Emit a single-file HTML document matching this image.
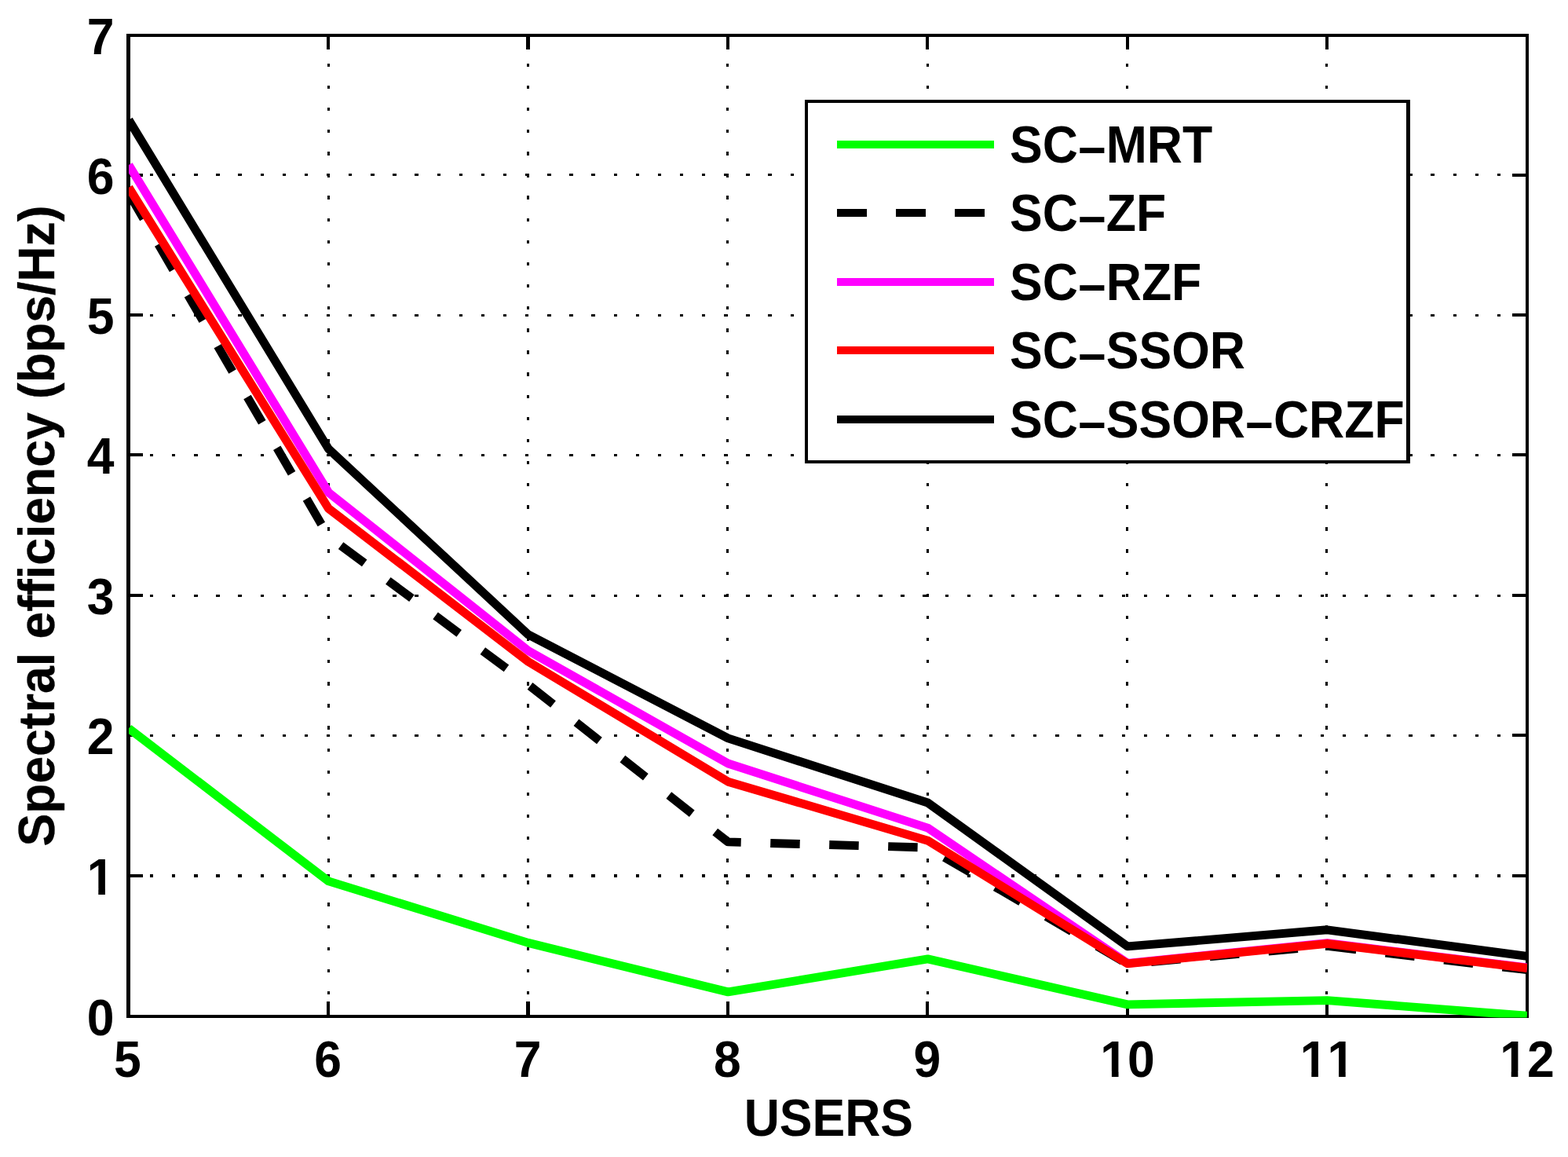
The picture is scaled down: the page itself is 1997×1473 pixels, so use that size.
<!DOCTYPE html>
<html lang="en"><head><meta charset="utf-8"><title>Spectral efficiency (bps/Hz)</title>
<style>
html,body{margin:0;padding:0;background:#fff;}
body{width:1997px;height:1473px;overflow:hidden;}
svg{display:block;}
text{font-family:"Liberation Sans",sans-serif;font-weight:bold;font-size:62.5px;fill:#000;font-kerning:none;font-variant-ligatures:none;}
.ax{shape-rendering:crispEdges;fill:#000;}
.grid{shape-rendering:crispEdges;stroke:#000;fill:none;}
.ser{fill:none;stroke-linejoin:round;}
</style></head><body>
<svg width="1997" height="1473" viewBox="0 0 1997 1473">
<rect x="0" y="0" width="1997" height="1473" fill="#ffffff"/>
<defs><clipPath id="plotclip"><rect x="164" y="45" width="1781.3" height="1250.5"/></clipPath></defs>
<g class="grid">
<line x1="418.50" y1="1294.40" x2="418.50" y2="45.00" stroke-width="3" stroke-dasharray="4.4 23.725"/>
<line x1="672.50" y1="1294.40" x2="672.50" y2="45.00" stroke-width="3" stroke-dasharray="4.4 23.725"/>
<line x1="926.50" y1="1294.40" x2="926.50" y2="45.00" stroke-width="3" stroke-dasharray="4.4 23.725"/>
<line x1="1181.50" y1="1294.40" x2="1181.50" y2="45.00" stroke-width="3" stroke-dasharray="4.4 23.725"/>
<line x1="1435.50" y1="1294.40" x2="1435.50" y2="45.00" stroke-width="3" stroke-dasharray="4.4 23.725"/>
<line x1="1689.50" y1="1294.40" x2="1689.50" y2="45.00" stroke-width="3" stroke-dasharray="4.4 23.725"/>
<line x1="162.72" y1="1115.00" x2="1945.00" y2="1115.00" stroke-width="4" stroke-dasharray="4.400 23.730"/>
<line x1="162.72" y1="936.50" x2="1945.00" y2="936.50" stroke-width="3" stroke-dasharray="4.400 23.730"/>
<line x1="162.72" y1="758.50" x2="1945.00" y2="758.50" stroke-width="3" stroke-dasharray="4.400 23.730"/>
<line x1="162.72" y1="579.50" x2="1945.00" y2="579.50" stroke-width="3" stroke-dasharray="4.400 23.730"/>
<line x1="162.72" y1="401.50" x2="1945.00" y2="401.50" stroke-width="3" stroke-dasharray="4.400 23.730"/>
<line x1="162.72" y1="222.50" x2="1945.00" y2="222.50" stroke-width="3" stroke-dasharray="4.400 23.730"/>
</g>
<g class="ax">
<rect x="161" y="43" width="5" height="1253"/>
<rect x="1943" y="43" width="4" height="1253"/>
<rect x="161" y="43" width="1786" height="4"/>
<rect x="161" y="1292" width="1786" height="4"/>
<rect x="416" y="45" width="4" height="18"/>
<rect x="416" y="1275" width="4" height="19"/>
<rect x="670" y="45" width="5" height="18"/>
<rect x="670" y="1275" width="5" height="19"/>
<rect x="925" y="45" width="4" height="18"/>
<rect x="925" y="1275" width="4" height="19"/>
<rect x="1179" y="45" width="4" height="18"/>
<rect x="1179" y="1275" width="4" height="19"/>
<rect x="1434" y="45" width="4" height="18"/>
<rect x="1434" y="1275" width="4" height="19"/>
<rect x="1688" y="45" width="4" height="18"/>
<rect x="1688" y="1275" width="4" height="19"/>
<rect x="163.5" y="1113" width="18.5" height="4"/>
<rect x="1926" y="1113" width="19" height="4"/>
<rect x="163.5" y="934" width="18.5" height="4"/>
<rect x="1926" y="934" width="19" height="4"/>
<rect x="163.5" y="756" width="18.5" height="4"/>
<rect x="1926" y="756" width="19" height="4"/>
<rect x="163.5" y="577" width="18.5" height="4"/>
<rect x="1926" y="577" width="19" height="4"/>
<rect x="163.5" y="399" width="18.5" height="4"/>
<rect x="1926" y="399" width="19" height="4"/>
<rect x="163.5" y="221" width="18.5" height="4"/>
<rect x="1926" y="221" width="19" height="4"/>
</g>
<g clip-path="url(#plotclip)">
<polyline class="ser" points="164.0,927.4 418.4,1121.9 672.8,1200.4 927.2,1262.9 1181.6,1220.9 1436.0,1278.9 1690.4,1273.6 1944.8,1293.2" stroke="#00ff00" stroke-width="10.9" stroke-linecap="butt"/>
<polyline class="ser" points="164.0,246.2 418.4,683.0 672.8,871.6 927.2,1071.9 1181.6,1079.1 1436.0,1227.2 1690.4,1204.3 1944.8,1234.7" stroke="#000000" stroke-width="10.9" stroke-dasharray="37.5 37.5" stroke-linecap="butt"/>
<polyline class="ser" points="164.0,210.1 418.4,626.9 672.8,828.4 927.2,972.0 1181.6,1054.1 1436.0,1226.3 1690.4,1200.6 1944.8,1232.0" stroke="#ff00ff" stroke-width="10.9" stroke-linecap="butt"/>
<polyline class="ser" points="164.0,238.7 418.4,647.3 672.8,842.3 927.2,995.2 1181.6,1070.2 1436.0,1226.8 1690.4,1201.3 1944.8,1232.5" stroke="#ff0000" stroke-width="10.9" stroke-linecap="butt"/>
<polyline class="ser" points="164.0,152.7 418.4,571.5 672.8,807.9 927.2,939.9 1181.6,1022.0 1436.0,1204.9 1690.4,1183.8 1944.8,1217.4" stroke="#000000" stroke-width="10.9" stroke-linecap="butt"/>
</g>
<rect x="1025" y="127" width="771" height="463" fill="#ffffff"/>
<g class="ax">
<rect x="1025" y="127" width="4" height="463"/>
<rect x="1791" y="127" width="5" height="463"/>
<rect x="1025" y="127" width="771" height="4"/>
<rect x="1025" y="586" width="771" height="4"/>
</g>
<rect x="1066" y="179" width="200" height="10" fill="#00ff00" shape-rendering="crispEdges"/>
<text transform="translate(1286.00 206.70) scale(1 1.070)">SC<tspan x="84.41" dy="0.60" font-size="54.0" textLength="40.82" lengthAdjust="spacingAndGlyphs">-</tspan><tspan x="122.82" dy="-0.60">MRT</tspan></text>
<rect x="1066" y="266" width="38" height="10" fill="#000000" shape-rendering="crispEdges"/>
<rect x="1141" y="266" width="38" height="10" fill="#000000" shape-rendering="crispEdges"/>
<rect x="1216" y="266" width="38" height="10" fill="#000000" shape-rendering="crispEdges"/>
<text transform="translate(1286.00 294.15) scale(1 1.070)">SC<tspan x="84.41" dy="0.60" font-size="54.0" textLength="40.82" lengthAdjust="spacingAndGlyphs">-</tspan><tspan x="122.82" dy="-0.60">ZF</tspan></text>
<rect x="1066" y="354" width="200" height="10" fill="#ff00ff" shape-rendering="crispEdges"/>
<text transform="translate(1286.00 381.60) scale(1 1.070)">SC<tspan x="84.41" dy="0.60" font-size="54.0" textLength="40.82" lengthAdjust="spacingAndGlyphs">-</tspan><tspan x="122.82" dy="-0.60">RZF</tspan></text>
<rect x="1066" y="441" width="200" height="10" fill="#ff0000" shape-rendering="crispEdges"/>
<text transform="translate(1286.00 469.05) scale(1 1.070)">SC<tspan x="84.41" dy="0.60" font-size="54.0" textLength="40.82" lengthAdjust="spacingAndGlyphs">-</tspan><tspan x="122.82" dy="-0.60">SSOR</tspan></text>
<rect x="1066" y="529" width="200" height="10" fill="#000000" shape-rendering="crispEdges"/>
<text transform="translate(1286.00 556.50) scale(1 1.070)">SC<tspan x="84.41" dy="0.60" font-size="54.0" textLength="40.82" lengthAdjust="spacingAndGlyphs">-</tspan><tspan x="122.82" dy="-0.60">SSOR</tspan><tspan x="297.54" dy="0.60" font-size="54.0" textLength="40.82" lengthAdjust="spacingAndGlyphs">-</tspan><tspan x="335.95" dy="-0.60">CRZF</tspan></text>
<text transform="translate(162.30 1371.10) scale(1 1.035)" text-anchor="middle">5</text>
<text transform="translate(417.70 1371.10) scale(1 1.035)" text-anchor="middle">6</text>
<text transform="translate(672.10 1371.10) scale(1 1.035)" text-anchor="middle">7</text>
<text transform="translate(926.50 1371.10) scale(1 1.035)" text-anchor="middle">8</text>
<text transform="translate(1180.90 1371.10) scale(1 1.035)" text-anchor="middle">9</text>
<clipPath id="c1x10"><path clip-rule="evenodd" d="M-120,-70H120V30H-120ZM-32.26,-7.2H-20.20V2H-32.26ZM-11.57,-7.2H-0.38V2H-11.57Z"/></clipPath>
<text transform="translate(1436.10 1371.10) scale(1 1.035)" text-anchor="middle" clip-path="url(#c1x10)">10</text>
<clipPath id="c1x11"><path clip-rule="evenodd" d="M-120,-70H120V30H-120ZM-32.26,-7.2H-20.20V2H-32.26ZM-11.57,-7.2H-0.38V2H-11.57ZM2.50,-7.2H14.56V2H2.50ZM23.19,-7.2H34.38V2H23.19Z"/></clipPath>
<text transform="translate(1690.50 1371.10) scale(1 1.035)" text-anchor="middle" clip-path="url(#c1x11)">11</text>
<clipPath id="c1x12"><path clip-rule="evenodd" d="M-120,-70H120V30H-120ZM-32.26,-7.2H-20.20V2H-32.26ZM-11.57,-7.2H-0.38V2H-11.57Z"/></clipPath>
<text transform="translate(1944.90 1371.10) scale(1 1.035)" text-anchor="middle" clip-path="url(#c1x12)">12</text>
<text transform="translate(145.50 1318.15) scale(1 1.035)" text-anchor="end">0</text>
<clipPath id="c1y"><path clip-rule="evenodd" d="M-120,-70H120V30H-120ZM-32.26,-7.2H-20.20V2H-32.26ZM-11.57,-7.2H-0.38V2H-11.57Z"/></clipPath>
<text transform="translate(145.50 1139.15) scale(1 1.035)" text-anchor="end" clip-path="url(#c1y)">1</text>
<text transform="translate(145.50 960.15) scale(1 1.035)" text-anchor="end">2</text>
<text transform="translate(145.50 782.15) scale(1 1.035)" text-anchor="end">3</text>
<text transform="translate(145.50 603.15) scale(1 1.035)" text-anchor="end">4</text>
<text transform="translate(145.50 425.15) scale(1 1.035)" text-anchor="end">5</text>
<text transform="translate(145.50 247.15) scale(1 1.035)" text-anchor="end">6</text>
<text transform="translate(145.50 69.15) scale(1 1.035)" text-anchor="end">7</text>
<text transform="translate(1055.30 1445.80) scale(1 1.070)" text-anchor="middle">USERS</text>
<text transform="translate(68.80 669.50) rotate(-90) scale(1 1.025)" text-anchor="middle" stroke="#000" stroke-width="0.3">Spectral efficiency (bps/Hz)</text>
</svg>
</body></html>
